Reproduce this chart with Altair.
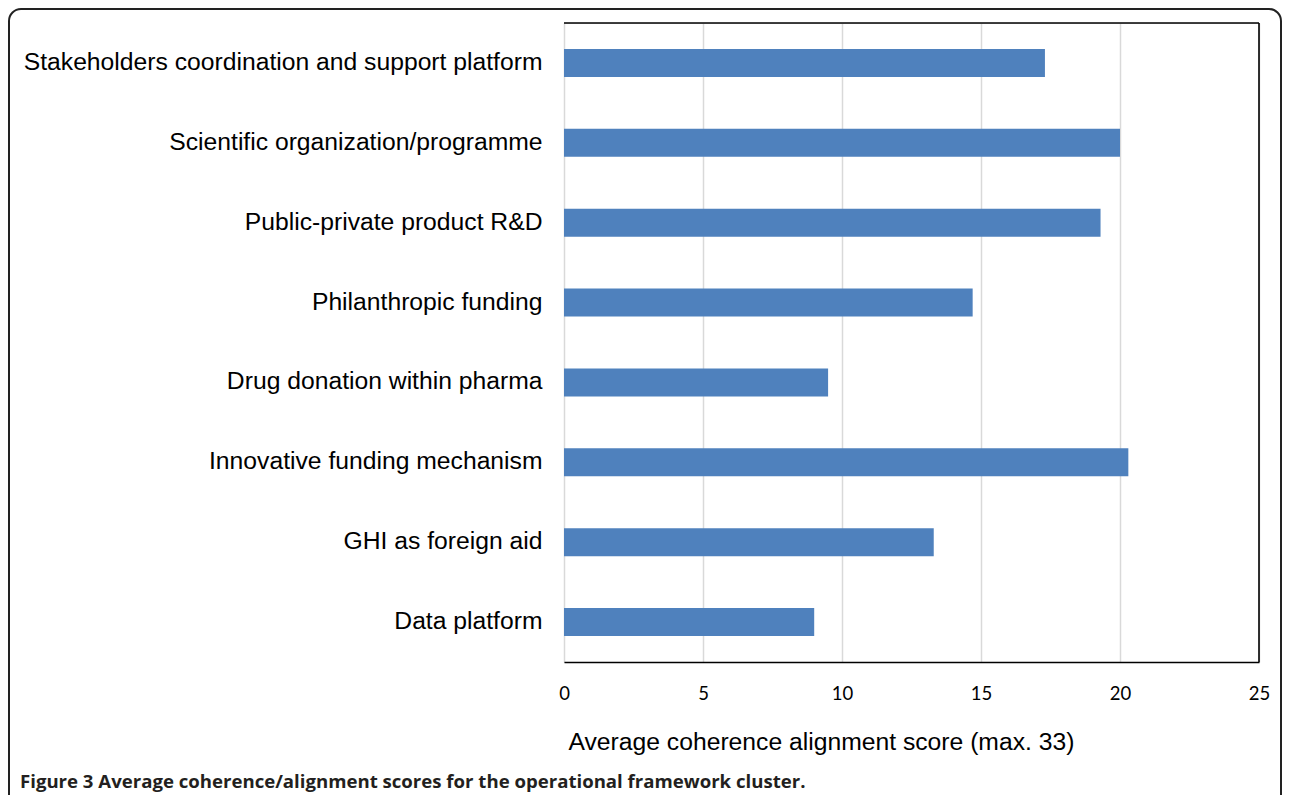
import altair as alt
import pandas as pd

categories = [
    "Stakeholders coordination and support platform",
    "Scientific organization/programme",
    "Public-private product R&D",
    "Philanthropic funding",
    "Drug donation within pharma",
    "Innovative funding mechanism",
    "GHI as foreign aid",
    "Data platform",
]
scores = [17.3, 20.0, 19.3, 14.7, 9.5, 20.3, 13.3, 9.0]
x_ticks = [0, 5, 10, 15, 20, 25]
x_title = "Average coherence alignment score (max. 33)"
caption = "Figure 3 Average coherence/alignment scores for the operational framework cluster."

df = pd.DataFrame({"category": categories, "score": scores})

W, H = 695, 639

bars = alt.Chart(df).mark_bar(color="#4f81bd").encode(
    x=alt.X(
        "score:Q",
        scale=alt.Scale(domain=[0, 25], nice=False),
        axis=alt.Axis(
            values=x_ticks,
            title=x_title,
            titleFont="Liberation Sans",
            titleFontSize=24.7,
            titleFontWeight="normal",
            titleColor="#000000",
            titleAlign="left",
            titleAnchor="start",
            titleBaseline="alphabetic",
            titleX=4,
            titleY=87,
            labelFont="Lato",
            labelFontSize=18.5,
            labelColor="#000000",
            labelPadding=22,
            labelBaseline="top",
            labelFlush=False,
            ticks=False,
            domain=True,
            domainColor="#000000",
            domainWidth=1.6,
            grid=True,
            gridColor="#d9d9d9",
            gridWidth=1.5,
        ),
    ),
    y=alt.Y(
        "category:N",
        sort=categories,
        scale=alt.Scale(paddingInner=0.65, paddingOuter=0.325),
        axis=alt.Axis(
            title=None,
            labelFont="Liberation Sans",
            labelFontSize=24.7,
            labelColor="#000000",
            labelPadding=22,
            labelLimit=700,
            ticks=False,
            domain=False,
            grid=False,
        ),
    ),
)

one = alt.Data(values=[{"k": 1}])

top_rule = alt.Chart(one).mark_rule(color="#000000", strokeWidth=1.6).encode(
    x=alt.value(0), x2=alt.value(W), y=alt.value(0)
)
right_rule = alt.Chart(one).mark_rule(color="#000000", strokeWidth=1.6).encode(
    x=alt.value(W), y=alt.value(0), y2=alt.value(H)
)

frame = alt.Chart(one).mark_rect(
    filled=False, stroke="#222222", strokeWidth=2, cornerRadius=12
).encode(
    x=alt.value(-555), x2=alt.value(717), y=alt.value(-14), y2=alt.value(800)
)

cap = alt.Chart(alt.Data(values=[{"t": caption}])).mark_text(
    align="left", baseline="alphabetic", font="Open Sans", fontWeight="bold",
    fontSize=18.6, color="#231f20"
).encode(
    text="t:N", x=alt.value(-544), y=alt.value(765)
)

chart = alt.layer(bars, top_rule, right_rule, frame, cap).properties(
    width=W,
    height=H,
    autosize=alt.AutoSizeParams(type="none"),
    padding={"left": 556, "top": 15, "right": 23, "bottom": 133},
).configure_view(stroke=None).configure(background="#ffffff")

chart.save("out.html", embed_options={"renderer": "svg", "actions": False})
